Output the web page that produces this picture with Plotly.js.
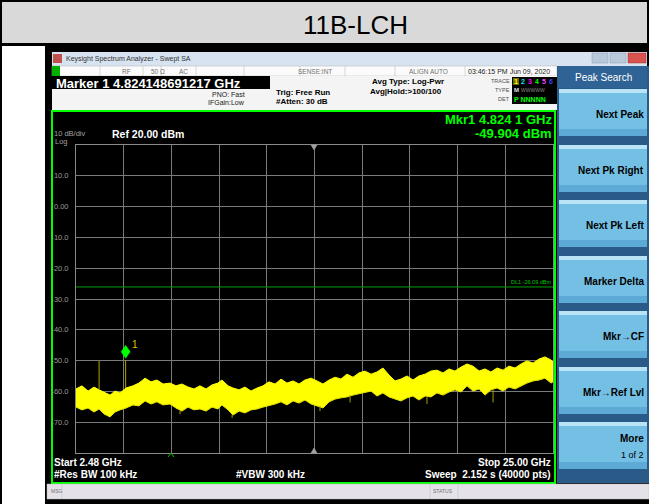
<!DOCTYPE html>
<html><head><meta charset="utf-8">
<script src="https://cdn.plot.ly/plotly-3.0.1.min.js"></script>
<style>html,body{margin:0;padding:0;background:#fff;}#chart{width:649px;height:504px;}</style>
</head><body><div id="chart"></div>
<script>
// ---------- data ----------
const chartTitle = '11B-LCH';
const startGHz = 2.48, stopGHz = 25.00;
const refLevelDbm = 20, dbPerDiv = 10;
const bandFreqGHz = [2.48,2.76,3.05,3.33,3.57,3.80,4.09,4.32,4.56,4.84,5.17,5.45,5.74,6.02,6.30,6.59,6.92,7.20,7.48,7.77,8.05,8.33,8.62,8.90,9.18,9.37,9.66,9.89,10.18,10.46,10.74,11.03,11.31,11.59,11.88,12.16,12.44,12.73,13.01,13.29,13.58,13.86,14.14,14.43,14.71,14.99,15.27,15.56,15.84,16.12,16.41,16.69,16.97,17.26,17.54,17.82,18.11,18.39,18.67,18.96,19.24,19.52,19.81,20.09,20.37,20.66,20.94,21.22,21.51,21.79,22.07,22.36,22.64,22.92,23.21,23.49,23.77,24.06,24.34,24.62,24.91,25.00];
const bandUpperDbm = [-59.2,-58.2,-59.9,-58.6,-59.5,-60.2,-61.2,-59.9,-60.5,-58.9,-58.2,-57.3,-55.7,-56.9,-56.3,-57.6,-57.3,-58.2,-57.6,-58.6,-59.2,-58.2,-59.2,-57.9,-57.3,-56.3,-58.2,-58.9,-59.5,-58.6,-59.9,-58.9,-58.2,-56.9,-57.6,-56.0,-57.3,-56.6,-57.6,-56.3,-55.7,-56.6,-57.6,-56.3,-55.4,-56.0,-54.4,-55.4,-54.0,-53.4,-54.4,-53.7,-52.4,-54.7,-56.6,-56.0,-55.0,-56.3,-55.0,-54.4,-53.4,-53.1,-54.0,-52.7,-53.4,-52.1,-51.1,-51.8,-53.4,-52.7,-53.7,-52.4,-53.1,-51.8,-52.4,-51.1,-50.1,-50.8,-49.5,-48.8,-49.8,-50.5];
const bandLowerDbm = [-65.1,-66.0,-65.4,-66.7,-65.7,-67.3,-68.3,-66.7,-66.0,-65.4,-64.4,-64.7,-63.1,-64.1,-63.4,-64.4,-64.1,-65.4,-66.4,-65.1,-66.0,-65.7,-66.4,-65.1,-65.7,-64.4,-66.0,-67.7,-66.4,-67.0,-66.0,-65.7,-65.1,-64.7,-64.1,-63.4,-64.4,-63.1,-63.8,-62.8,-64.1,-64.7,-65.4,-63.4,-62.5,-62.1,-61.8,-61.2,-60.8,-60.5,-59.9,-61.5,-60.5,-61.8,-62.5,-63.1,-62.1,-61.5,-62.8,-61.5,-61.8,-60.5,-61.2,-60.2,-59.5,-60.2,-58.2,-59.9,-59.2,-61.2,-59.5,-58.9,-59.9,-58.6,-59.2,-58.2,-57.3,-56.6,-56.3,-55.7,-57.3,-56.9];
const dipFreqGHz = [7.39, 9.85, 14.00, 15.42, 19.05, 22.17];
const dipLevelDbm = [-67.4, -68.6, -66.4, -63.6, -64.1, -63.6];
const spurFreqGHz = [3.57, 4.8241];
const spurLevelDbm = [-50.1, -49.904];
const markerFreqGHz = 4.8241;
const markerLevelDbm = -49.904;
const displayLineDbm = -26.09;
const yTickVals = [10,0,-10,-20,-30,-40,-50,-60,-70];
const yTickText = ['10.0','0.00','-10.0','-20.0','-30.0','-40.0','-50.0','-60.0','-70.0'];
const softkeys = ['Next Peak','Next Pk Right','Next Pk Left','Marker Delta','Mkr\u2192CF','Mkr\u2192Ref Lvl','More'];

// ---------- geometry helpers (pixels -> paper) ----------
const L=76,R=553,T=145,B=453;
const px = x => (x-L)/(R-L);
const py = y => (B-y)/(B-T);
const shapes=[], annotations=[];
const FONT='Liberation Sans, Arial, sans-serif';
function rect(x0,y0,x1,y1,fill,line,lw,layer){
  shapes.push({type:'rect',xref:'paper',yref:'paper',x0:px(x0),x1:px(x1),y0:py(y1),y1:py(y0),
    fillcolor:fill,line:{color:line||'rgba(0,0,0,0)',width:lw||0},layer:layer||'above'});
}
function vline(x,y0,y1,color,w){shapes.push({type:'line',xref:'paper',yref:'paper',x0:px(x),x1:px(x),y0:py(y0),y1:py(y1),line:{color:color,width:w||1},layer:'above'});}
function txt(x,y,s,size,color,anchor,bold,family){
  annotations.push({xref:'paper',yref:'paper',x:px(x),y:py(y),text:bold?('<b>'+s+'</b>'):s,showarrow:false,
    xanchor:anchor||'left',yanchor:'middle',borderpad:0,font:{family:family||FONT,size:size,color:color}});
}
function poly(pts,fill,color,layer){
  let d='M '+pts.map(p=>px(p[0])+' '+py(p[1])).join(' L ')+' Z';
  shapes.push({type:'path',xref:'paper',yref:'paper',path:d,fillcolor:fill,line:{color:color||fill,width:0.5},layer:layer||'above'});
}

// ---------- frame ----------
rect(0,0,649,504,'#000000',null,0,'below');
rect(2,2,647,43,'#d9d9d9',null,0,'below');
rect(2,46,45,504,'#ffffff',null,0,'below');
txt(355,25,chartTitle,26,'#000000','center');

// window title bar
rect(52,52,647,66,'#d7e3f0');
rect(53,54,62,63,'#c0504d');
txt(65,59,'Keysight Spectrum Analyzer - Swept SA',7,'#303030','left');
rect(592,53,608,63,'#b9c9dc','#8a9bb0',0.5);
rect(610,53,626,63,'#b9c9dc','#8a9bb0',0.5);
rect(628,53,646,63,'#d9534f','#a03030',0.5);
// status row
rect(52,66,557,76,'#fbfbfb','#b0b0b0',0.5);
rect(52,66,60,76,'#00b000');
[100,143,161,196,244,300,345,395,465].forEach(x=>vline(x,66,76,'#b0b0b0',0.5));
txt(126,71,'RF',6.5,'#707070','center');
txt(150,71,'50 \u03a9',6.5,'#707070','left');
txt(178,71,'AC',6.5,'#707070','left');
txt(315,71,'SENSE:INT',6.5,'#707070','center');
txt(428,71,'ALIGN AUTO',6.5,'#707070','center');
txt(467,71,'03:46:15 PM Jun 09, 2020',7,'#202020','left');
// info area
rect(52,76,557,110,'#f4f4f4');
rect(52,76,270,89,'#000000');
txt(55,83,'Marker 1 4.824148691217 GHz',13,'#ffffff','left',true);
txt(246,94,'PNO: Fast',7,'#202020','right');
txt(246,103,'IFGain:Low',7,'#202020','right');
txt(275,92,'Trig: Free Run',8,'#000000','left',true);
txt(275,101,'#Atten: 30 dB',8,'#000000','left',true);
txt(371,82,'Avg Type: Log-Pwr',8,'#000000','left',true);
txt(369,91,'Avg|Hold:>100/100',8,'#000000','left',true);
txt(511,81,'TRACE',5.5,'#505050','right');
txt(511,90,'TYPE',5.5,'#505050','right');
txt(511,99,'DET',5.5,'#505050','right');
rect(512,77,557,104,'#000000');
rect(513,78,519,85,'#6b6b00');
const trColors=['#ffff00','#00e0ff','#ff00ff','#00ff00','#ff40ff','#4040ff'];
['1','2','3','4','5','6'].forEach((s,i)=>txt(516+i*7,81.5,s,7,trColors[i],'center',true));
txt(513,90,'M',6,'#e0e0e0','left',true);
txt(520,90,'WWWWW',5,'#8a8a8a','left');
txt(513,99,'P NNNNN',7,'#00ff00','left',true);

// display area
rect(52,111,555,483,'#000000','#00ff00',2,'below');
txt(553,120,'Mkr1 4.824 1 GHz',13,'#00ff00','right',true);
txt(553,133,'-49.904 dBm',13,'#00ff00','right',true);
txt(53,133,'10 dB/div',7.5,'#a0a0a0','left');
txt(54,141,'Log',7.5,'#a0a0a0','left');
txt(111,134,'Ref 20.00 dBm',10.5,'#ffffff','left',true);
txt(53,462,'Start 2.48 GHz',10,'#ffffff','left',true);
txt(53,474,'#Res BW 100 kHz',10,'#ffffff','left',true);
txt(235,474,'#VBW 300 kHz',10,'#ffffff','left',true);
txt(552,462,'Stop 25.00 GHz',10,'#ffffff','right',true);
txt(552,474,'Sweep  2.152 s (40000 pts)',10,'#ffffff','right',true);
txt(552,282,'DL1 -26.09 dBm',5.5,'#00c000','right');
// small triangles
poly([[311,145],[317,145],[314,150]],'#a0a0a0');
poly([[311,453],[317,453],[314,448]],'#a0a0a0');
shapes.push({type:'path',xref:'paper',yref:'paper',path:'M '+px(168)+' '+py(457)+' L '+px(171)+' '+py(453)+' L '+px(174)+' '+py(457),line:{color:'#00c000',width:1},layer:'above'});

// right panel
rect(557,66,649,483,'#2a5a88');
rect(558,66,647,88,'#2f6395');
txt(603,77,'Peak Search',10,'#ffffff','center');
const keyTops=[89,145,200,256,311,367,422];
keyTops.forEach((t,i)=>{
  rect(559,t,647,t+47,'#74bfe4');
  rect(559,t,647,t+4,'#b8e4f6');
  rect(559,t+40,647,t+47,'#5eaad6');
  if(i<6) txt(645,t+25,softkeys[i],10,'#000000','right',true);
  else { txt(645,t+16,softkeys[i],10,'#000000','right',true); txt(645,t+33,'1 of 2',9,'#000000','right'); }
});

// bottom msg bar
rect(47,484,649,499,'#e4e1e8','#c0c0c0',0.5);
vline(62,484,499,'#c0c0c0',0.5);
vline(430,484,499,'#c0c0c0',0.5);
vline(458,484,499,'#c0c0c0',0.5);
txt(50,491,'MSG',5,'#707070','left');
txt(432,491,'STATUS',5,'#707070','left');

// display line DL1
shapes.push({type:'line',xref:'paper',x0:0,x1:1,yref:'y',y0:displayLineDbm,y1:displayLineDbm,line:{color:'#00a000',width:1},layer:'above'});

// marker diamond (pixel-sized, anchored at marker data point)
shapes.push({type:'path',xref:'x',yref:'y',xsizemode:'pixel',ysizemode:'pixel',xanchor:markerFreqGHz,yanchor:markerLevelDbm,
  path:'M 0 2 L 4.5 8.5 L 0 15 L -4.5 8.5 Z',fillcolor:'#00ff00',line:{color:'#00ff00',width:0.5},layer:'above'});
annotations.push({xref:'x',yref:'y',x:markerFreqGHz,y:markerLevelDbm,text:'1',showarrow:false,xshift:9,yshift:16,
  font:{family:FONT,size:10,color:'#d8c800'},xanchor:'center',yanchor:'middle'});

// ---------- traces ----------
function nearestIdx(f){let k=0;bandFreqGHz.forEach((v,i)=>{if(Math.abs(v-f)<Math.abs(bandFreqGHz[k]-f))k=i;});return k;}
const spurX=[],spurY=[];
spurFreqGHz.forEach((f,i)=>{spurX.push(f,f,null);spurY.push(bandUpperDbm[nearestIdx(f)],spurLevelDbm[i],null);});
const dipX=[],dipY=[];
dipFreqGHz.forEach((f,i)=>{dipX.push(f,f,null);dipY.push(bandLowerDbm[nearestIdx(f)],dipLevelDbm[i],null);});

const traces=[
  {x:bandFreqGHz,y:bandUpperDbm,type:'scatter',mode:'lines',line:{color:'#ffff00',width:1},hoverinfo:'skip'},
  {x:bandFreqGHz,y:bandLowerDbm,type:'scatter',mode:'lines',line:{color:'#e6e600',width:1},fill:'tonexty',fillcolor:'#ffff00',hoverinfo:'skip'},
  {x:dipX,y:dipY,type:'scatter',mode:'lines',line:{color:'#a89a00',width:1},hoverinfo:'skip'},
  {x:spurX,y:spurY,type:'scatter',mode:'lines',line:{color:'#b4a400',width:1},hoverinfo:'skip'}
];

const layout={
  width:649,height:504,margin:{l:L,r:649-R,t:T,b:504-B},
  paper_bgcolor:'#ffffff',plot_bgcolor:'#000000',showlegend:false,
  xaxis:{range:[startGHz,stopGHz],tick0:startGHz,dtick:(stopGHz-startGHz)/10,showticklabels:false,ticks:'',
    showgrid:true,gridcolor:'#7a7a7a',gridwidth:1,zeroline:false,showline:true,mirror:true,linecolor:'#8a8a8a',linewidth:1,fixedrange:true},
  yaxis:{range:[refLevelDbm-10*dbPerDiv,refLevelDbm],tickvals:yTickVals,ticktext:yTickText,ticks:'',ticklabelstandoff:5,
    tickfont:{family:FONT,size:7.5,color:'#9a9a9a'},showgrid:true,gridcolor:'#7a7a7a',gridwidth:1,zeroline:false,
    showline:true,mirror:true,linecolor:'#8a8a8a',linewidth:1,fixedrange:true},
  shapes:shapes,annotations:annotations
};
Plotly.newPlot('chart',traces,layout,{displayModeBar:false,staticPlot:true});
</script></body></html>
